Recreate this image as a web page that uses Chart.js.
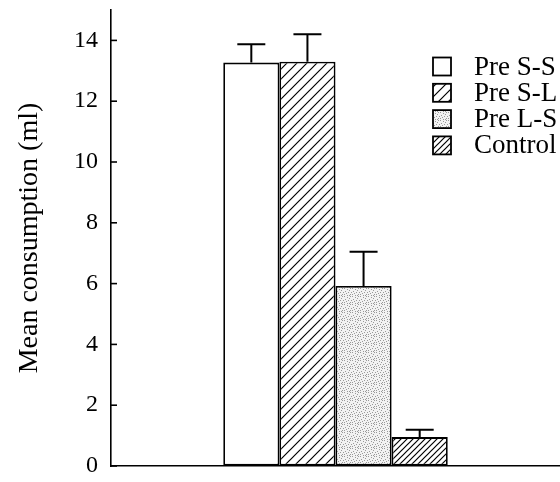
<!DOCTYPE html>
<html>
<head>
<meta charset="utf-8">
<script src="https://cdn.jsdelivr.net/npm/chart.js@4"></script>
<style>
    html, body { margin: 0; padding: 0; background: #fff; }
    #wrap { width: 560px; height: 482px; }
</style>
</head>
<body>
<div id="wrap"><canvas id="chart"></canvas></div>
<script>
const groups = ['Pre S-S', 'Pre S-L', 'Pre L-S', 'Control'];
const meanValues = [13.27, 13.3, 5.92, 0.95];
const errorValues = [0.6, 0.9, 1.13, 0.24];
const yTicks = [0, 2, 4, 6, 8, 10, 12, 14];

const serif = "'Liberation Serif', 'DejaVu Serif', serif";

function makeHatch(size, lineWidth) {
    const c = document.createElement('canvas');
    c.width = size;
    c.height = size;
    const ctx = c.getContext('2d');
    ctx.fillStyle = '#fff';
    ctx.fillRect(0, 0, size, size);
    ctx.strokeStyle = '#000';
    ctx.lineWidth = lineWidth;
    ctx.beginPath();
    ctx.moveTo(-1, size + 1);
    ctx.lineTo(size + 1, -1);
    ctx.moveTo(-1, 1);
    ctx.lineTo(1, -1);
    ctx.moveTo(size - 1, size + 1);
    ctx.lineTo(size + 1, size - 1);
    ctx.stroke();
    return ctx.createPattern(c, 'repeat');
}

function makeStipple() {
    const c = document.createElement('canvas');
    c.width = 8;
    c.height = 8;
    const ctx = c.getContext('2d');
    ctx.fillStyle = '#f2f2f2';
    ctx.fillRect(0, 0, 8, 8);
    // fixed dot layout for a scanned-screen look
    const dots = [[0, 0], [3, 1], [6, 0], [1, 3], [5, 2], [7, 4], [2, 5], [4, 4], [0, 6], [6, 6], [3, 7], [5, 7]];
    ctx.fillStyle = '#999';
    dots.forEach(d => ctx.fillRect(d[0], d[1], 1, 1));
    return ctx.createPattern(c, 'repeat');
}

const fills = [
    '#ffffff',
    makeHatch(10, 1.2),
    makeStipple(),
    makeHatch(6, 1.2)
];

const errorBars = {
    id: 'errorBars',
    afterDatasetsDraw(chart) {
        const ctx = chart.ctx;
        const y = chart.scales.y;
        ctx.save();
        ctx.strokeStyle = '#000';
        ctx.lineWidth = 2;
        chart.data.datasets.forEach((ds, i) => {
            const bar = chart.getDatasetMeta(i).data[0];
            const top = y.getPixelForValue(meanValues[i] + errorValues[i]);
            ctx.beginPath();
            ctx.moveTo(bar.x, bar.y);
            ctx.lineTo(bar.x, top);
            ctx.moveTo(bar.x - 14, top);
            ctx.lineTo(bar.x + 14, top);
            ctx.stroke();
        });
        ctx.restore();
    }
};

const innerTicks = {
    id: 'innerTicks',
    afterDraw(chart) {
        const ctx = chart.ctx;
        const y = chart.scales.y;
        ctx.save();
        ctx.strokeStyle = '#000';
        ctx.lineWidth = 1.6;
        yTicks.forEach(v => {
            const py = y.getPixelForValue(v);
            ctx.beginPath();
            ctx.moveTo(y.right, py);
            ctx.lineTo(y.right + 6, py);
            ctx.stroke();
        });
        ctx.restore();
    }
};

const boxLegend = {
    id: 'boxLegend',
    afterDraw(chart) {
        const ctx = chart.ctx;
        ctx.save();
        ctx.font = '27px ' + serif;
        ctx.textBaseline = 'middle';
        chart.data.datasets.forEach((ds, i) => {
            const cy = 66.5 + i * 26.3;
            ctx.fillStyle = ds.backgroundColor;
            ctx.fillRect(433, cy - 9, 18, 18);
            ctx.strokeStyle = '#000';
            ctx.lineWidth = 1.8;
            ctx.strokeRect(433, cy - 9, 18, 18);
            ctx.fillStyle = '#000';
            ctx.fillText(ds.label, 474, cy + 1);
        });
        ctx.restore();
    }
};

const ctx = document.getElementById('chart').getContext('2d');
new Chart(ctx, {
    type: 'bar',
    data: {
        labels: [''],
        datasets: groups.map((name, i) => ({
            label: name,
            data: [meanValues[i]],
            backgroundColor: fills[i],
            borderColor: '#000',
            borderWidth: 1.8,
            borderSkipped: false,
            categoryPercentage: 0.5,
            barPercentage: 1
        }))
    },
    options: {
        responsive: true,
        maintainAspectRatio: false,
        animation: false,
        layout: { padding: { top: 10, right: 0, left: 0, bottom: 0 } },
        plugins: {
            legend: { display: false },
            tooltip: { enabled: false }
        },
        scales: {
            x: {
                type: 'category',
                grid: { display: false, drawTicks: false },
                border: { display: true, color: '#000', width: 1.6 },
                ticks: { display: false },
                afterFit: scale => { scale.height = 16; }
            },
            y: {
                min: 0,
                max: 15,
                afterBuildTicks: scale => {
                    scale.ticks = yTicks.map(v => ({ value: v }));
                },
                grid: { display: true, drawOnChartArea: false, drawTicks: false },
                border: { display: true, color: '#000', width: 1.6 },
                ticks: {
                    color: '#000',
                    padding: 13,
                    font: { family: serif, size: 24 }
                },
                title: {
                    display: true,
                    text: 'Mean consumption (ml)',
                    color: '#000',
                    font: { family: serif, size: 28 },
                    padding: { top: 13, bottom: 0 }
                },
                afterFit: scale => {
                    scale.width = 111;
                    scale.paddingTop = 0;
                    scale.paddingBottom = 0;
                }
            }
        }
    },
    plugins: [errorBars, innerTicks, boxLegend]
});
</script>
</body>
</html>
